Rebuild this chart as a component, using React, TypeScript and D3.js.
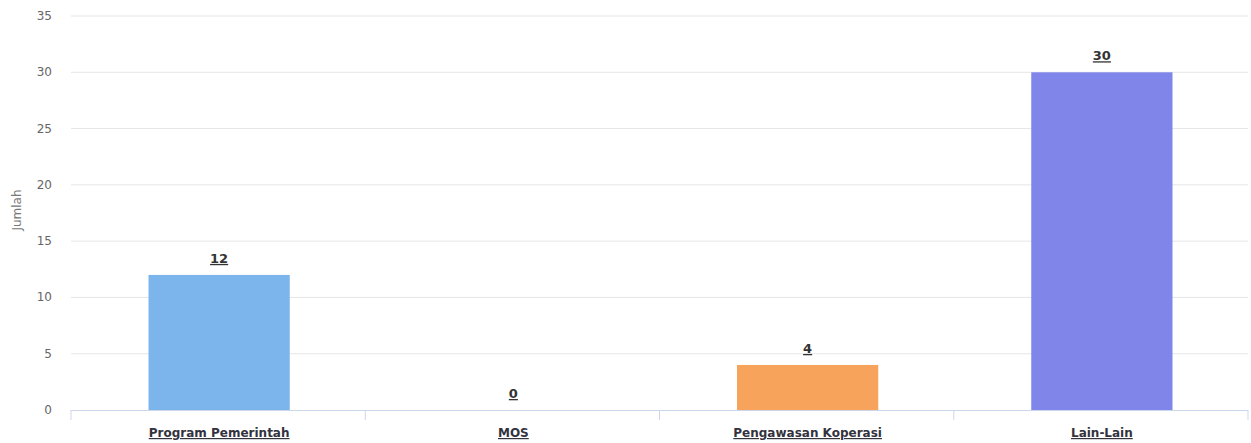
import React from "react";
import * as d3 from "d3";

const categories = ["Program Pemerintah", "MOS", "Pengawasan Koperasi", "Lain-Lain"];
const values = [12, 0, 4, 30];
const colors = ["#7cb5ec", "#434348", "#f7a35c", "#8085e9"];
const yTicks = [0, 5, 10, 15, 20, 25, 30, 35];
const yTitle = "Jumlah";

const W = 1251;
const H = 443;
const left = 71;
const right = 1248;
const top = 16;
const bottom = 410;
const font = "'DejaVu Sans', Verdana, sans-serif";

export default function App() {
  const x = d3.scaleBand<string>().domain(categories).range([left, right]).paddingInner(0).paddingOuter(0);
  const y = d3.scaleLinear().domain([0, 35]).range([bottom, top]);
  const bw = x.bandwidth();
  const barW = bw * 0.6 * 0.8;
  const boundaries = [...categories.map((c) => x(c)!), right];

  return (
    <svg width={W} height={H} style={{ position: "absolute", left: 0, top: 0, background: "#fff" }}>
      {yTicks.map((t) => (
        <g key={t}>
          {t > 0 && (
            <line x1={left} x2={right} y1={y(t)} y2={y(t)} stroke="#e6e6e6" strokeWidth={1} />
          )}
          <text x={52} y={y(t) + 4} textAnchor="end" fontSize={12} fill="#666" fontFamily={font}>
            {t}
          </text>
        </g>
      ))}
      <text
        transform={`translate(21,${(top + bottom) / 2 - 3}) rotate(-90)`}
        textAnchor="middle"
        fontSize={12}
        fill="#777"
        fontFamily={font}
      >
        {yTitle}
      </text>
      {categories.map((c, i) => {
        const cx = x(c)! + bw / 2 + 1;
        const yv = y(values[i]);
        return (
          <g key={c}>
            {values[i] > 0 && (
              <rect x={cx - barW / 2} y={yv} width={barW} height={bottom - yv} fill={colors[i]} />
            )}
            <text
              x={cx}
              y={yv - 12}
              textAnchor="middle"
              fontSize={13}
              fontWeight="bold"
              fill="#333"
              fontFamily={font}
              textDecoration="underline"
            >
              {values[i]}
            </text>
            <text
              x={cx}
              y={437}
              textAnchor="middle"
              fontSize={12}
              fontWeight="bold"
              fill="#333340"
              fontFamily={font}
              textDecoration="underline"
            >
              {c}
            </text>
          </g>
        );
      })}
      <line x1={left} x2={right} y1={bottom + 0.5} y2={bottom + 0.5} stroke="#ccd6eb" strokeWidth={1} />
      {boundaries.map((b, i) => (
        <line key={i} x1={b} x2={b} y1={bottom} y2={bottom + 10} stroke="#ccd6eb" strokeWidth={1} />
      ))}
    </svg>
  );
}
